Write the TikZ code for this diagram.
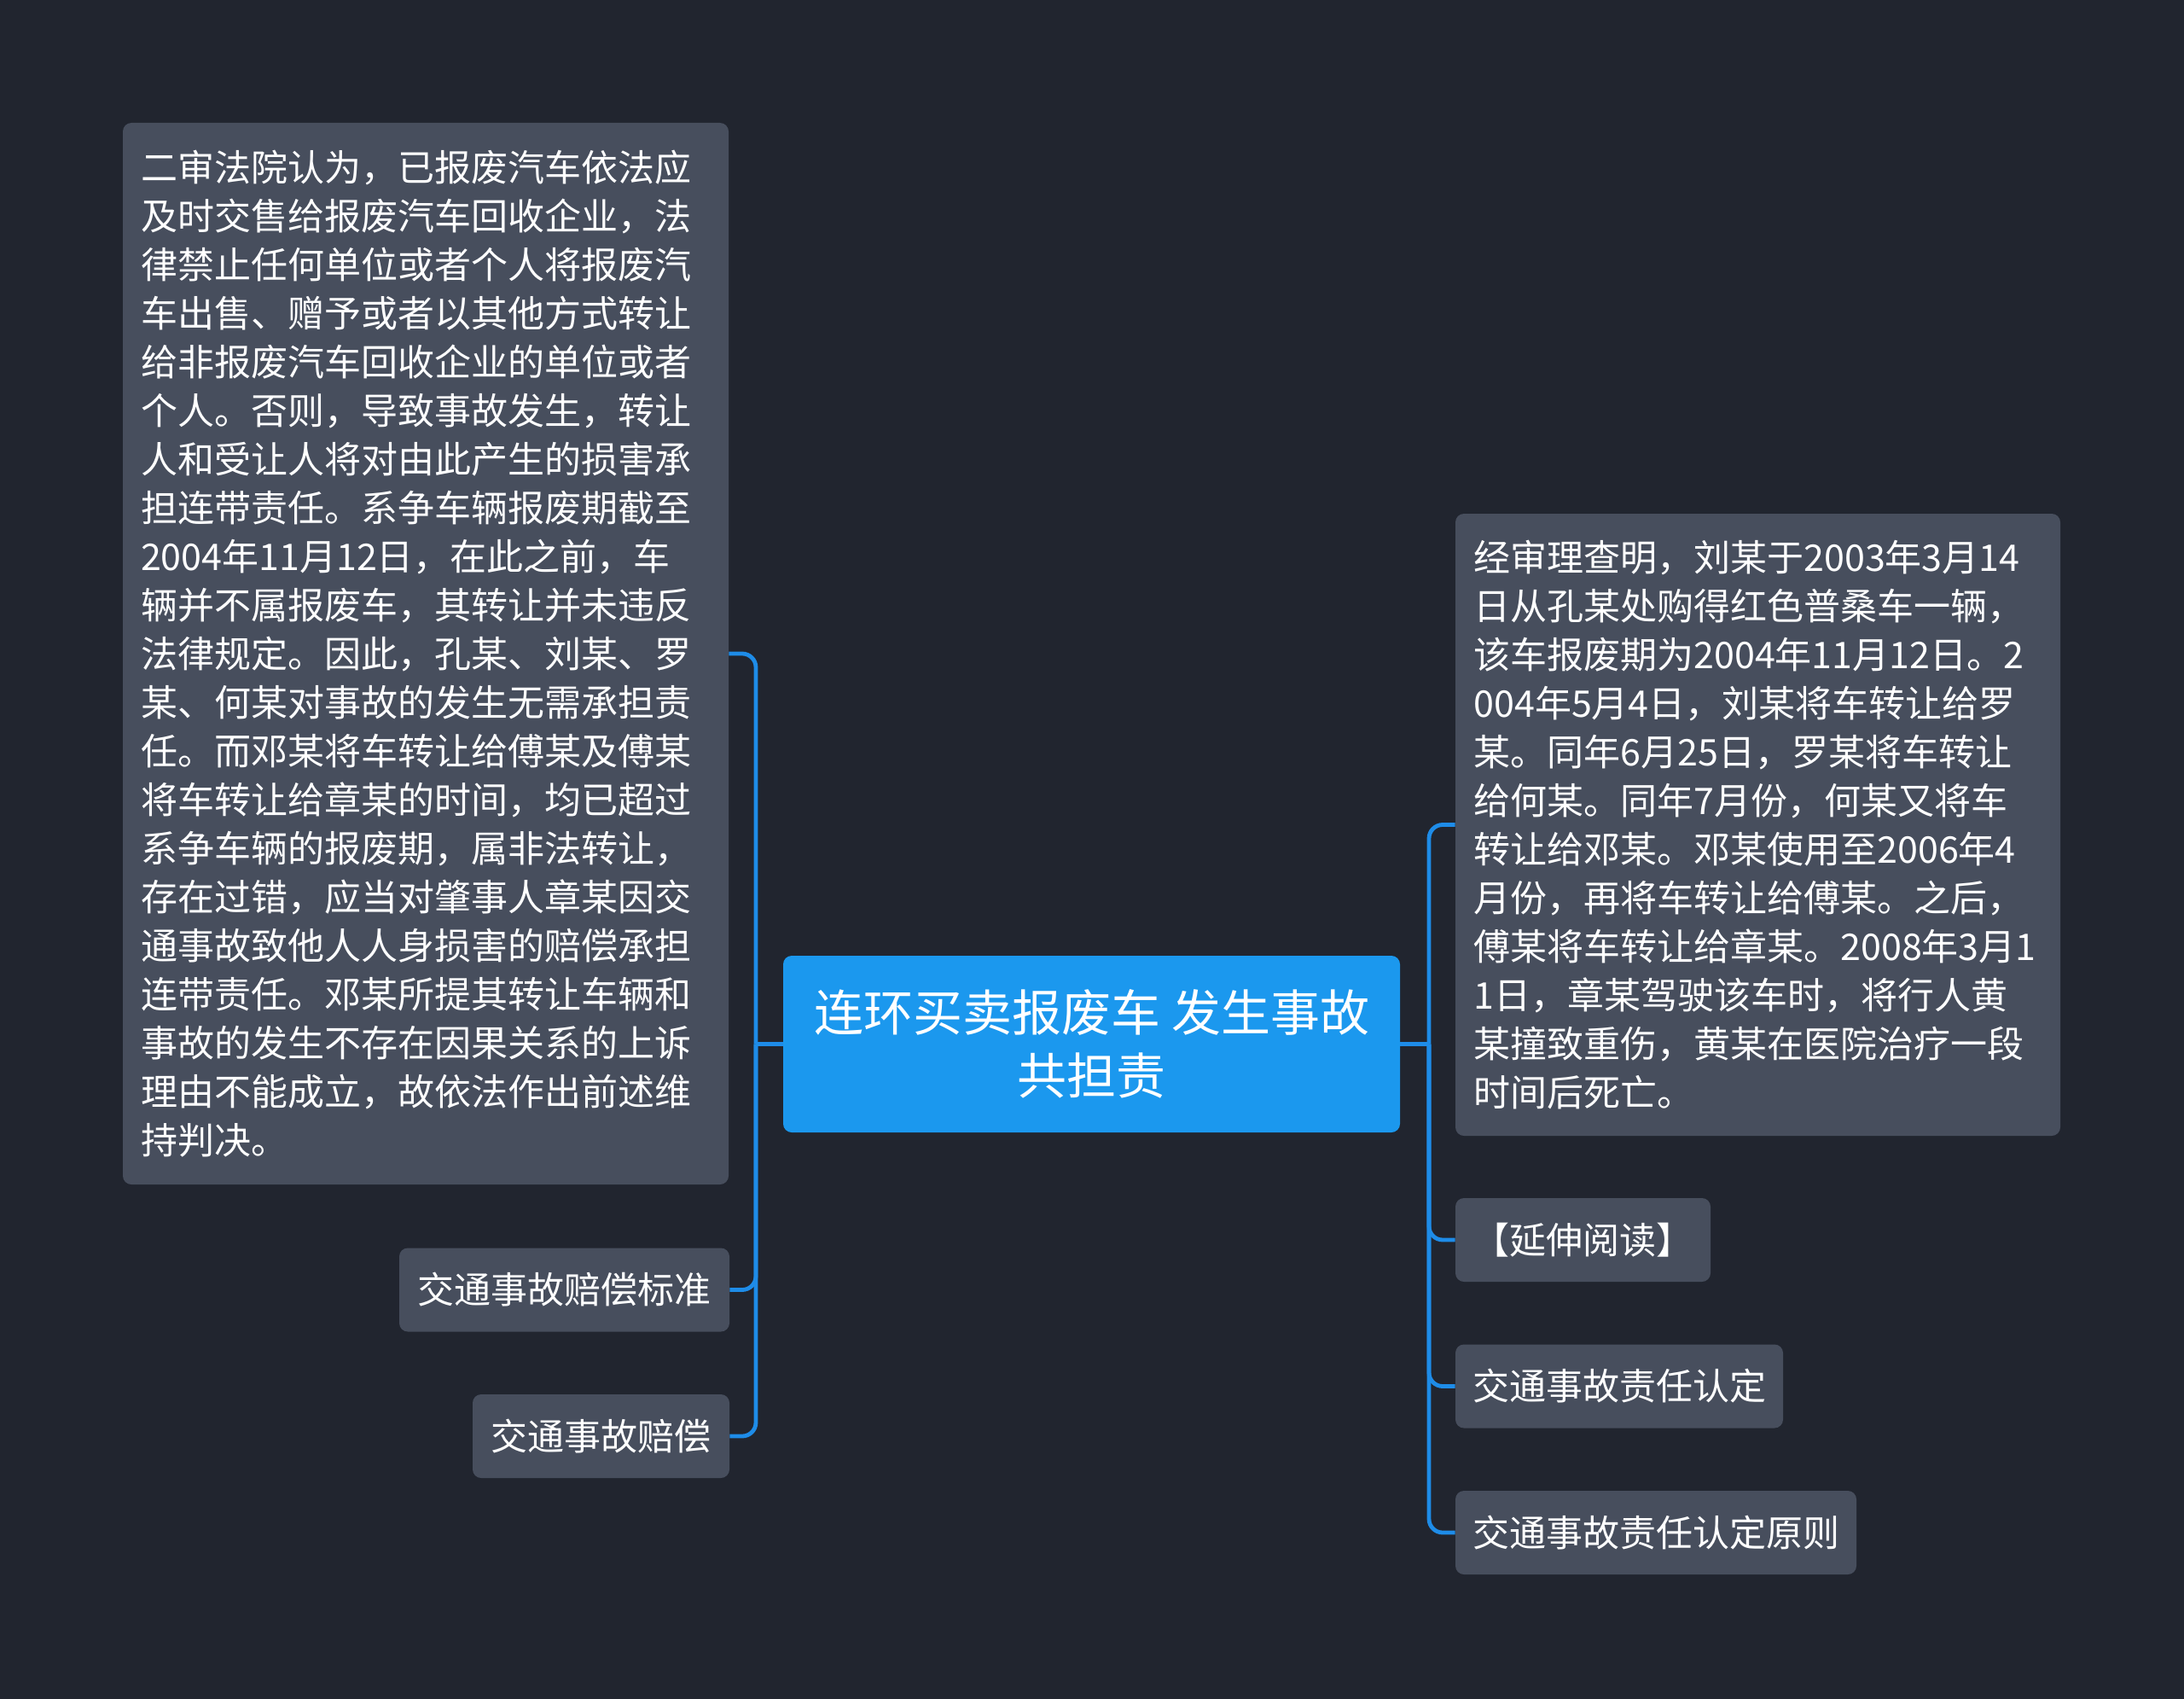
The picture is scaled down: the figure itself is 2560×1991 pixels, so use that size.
\documentclass[tikz,border=0pt]{standalone}
\usepackage{fontspec}
\setmainfont{Noto Sans CJK SC}
\definecolor{bgc}{HTML}{21252F}
\definecolor{nodegray}{HTML}{474E5D}
\definecolor{centerblue}{HTML}{1B98EE}
\definecolor{linkblue}{HTML}{1E8CE8}
\begin{document}
\begin{tikzpicture}[x=0.5pt,y=-0.5pt,
  box/.style={fill=nodegray, rounded corners=5pt, text=white, inner sep=0pt,
    font=\fontsize{21.5pt}{28.5pt}\selectfont},
  smallbox/.style={box, minimum height=49pt, align=center},
  centerbox/.style={fill=centerblue, rounded corners=5pt, text=white, inner sep=0pt,
    font=\fontsize{29pt}{37pt}\selectfont, align=center},
  conn/.style={draw=linkblue, line width=2.4pt}]
\fill[bgc] (0,0) rectangle (2560,1991);
\useasboundingbox (0,0) rectangle (2560,1991);

\node[centerbox, minimum width=361.5pt, minimum height=103.5pt] (c) at (1279.5,1223.5)
  {连环买卖报废车 发生事故\\共担责};

\node[box, minimum width=355pt, minimum height=622pt, text width=334pt, align=left] (L0) at (499,766)
  {二审法院认为，已报废汽车依法应\\%
及时交售给报废汽车回收企业，法\\%
律禁止任何单位或者个人将报废汽\\%
车出售、赠予或者以其他方式转让\\%
给非报废汽车回收企业的单位或者\\%
个人。否则，导致事故发生，转让\\%
人和受让人将对由此产生的损害承\\%
担连带责任。系争车辆报废期截至\\%
2004年11月12日，在此之前，车\\%
辆并不属报废车，其转让并未违反\\%
法律规定。因此，孔某、刘某、罗\\%
某、何某对事故的发生无需承担责\\%
任。而邓某将车转让给傅某及傅某\\%
将车转让给章某的时间，均已超过\\%
系争车辆的报废期，属非法转让，\\%
存在过错，应当对肇事人章某因交\\%
通事故致他人人身损害的赔偿承担\\%
连带责任。邓某所提其转让车辆和\\%
事故的发生不存在因果关系的上诉\\%
理由不能成立，故依法作出前述维\\%
持判决。};

\node[smallbox, minimum width=193.5pt] (L1) at (661.5,1511.5) {交通事故赔偿标准};
\node[smallbox, minimum width=150.5pt] (L2) at (704.5,1683) {交通事故赔偿};

\node[box, minimum width=354.5pt, minimum height=364.5pt, text width=333pt, align=left] (R0) at (2060.5,966.5)
  {经审理查明，刘某于2003年3月14\\%
日从孔某处购得红色普桑车一辆，\\%
该车报废期为2004年11月12日。2\\%
004年5月4日，刘某将车转让给罗\\%
某。同年6月25日，罗某将车转让\\%
给何某。同年7月份，何某又将车\\%
转让给邓某。邓某使用至2006年4\\%
月份，再将车转让给傅某。之后，\\%
傅某将车转让给章某。2008年3月1\\%
1日，章某驾驶该车时，将行人黄\\%
某撞致重伤，黄某在医院治疗一段\\%
时间后死亡。};

\node[smallbox, minimum width=149.5pt] (R1) at (1855.5,1453) {【延伸阅读】};
\node[smallbox, minimum width=192pt] (R2) at (1898,1624.5) {交通事故责任认定};
\node[smallbox, minimum width=235pt] (R3) at (1941,1796) {交通事故责任认定原则};

\coordinate (jl) at (886,1223.5);
\coordinate (jr) at (1675,1223.5);

\draw[conn] (c.west) -- (jl);
\draw[conn] (c.east) -- (jr);
\foreach \n in {L0,L1,L2} {
  \draw[conn, rounded corners=8pt] (jl) |- (\n.east);
}
\foreach \n in {R0,R1,R2,R3} {
  \draw[conn, rounded corners=8pt] (jr) |- (\n.west);
}
\end{tikzpicture}
\end{document}
